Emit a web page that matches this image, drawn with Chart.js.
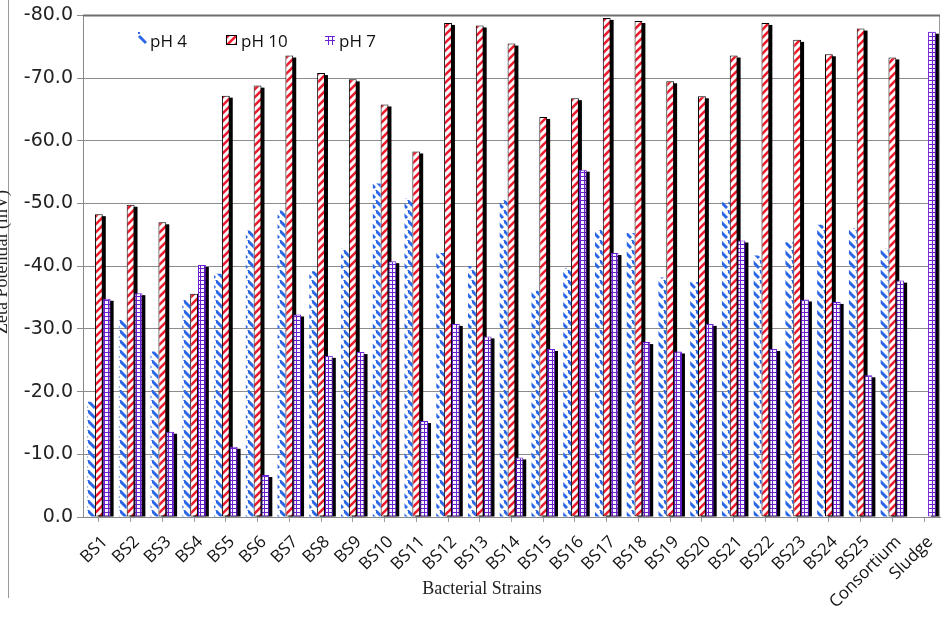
<!DOCTYPE html>
<html>
<head>
<meta charset="utf-8">
<script src="https://cdn.jsdelivr.net/npm/chart.js@4"></script>
<style>
  body { margin: 0; background: #fff; }
  #wrap { width: 951px; height: 617px; position: relative; }
</style>
</head>
<body>
<div id="wrap"><canvas id="grafico" width="951" height="617"></canvas></div>
<script>
// Datos del grafico (mV)
const strains = ["BS1", "BS2", "BS3", "BS4", "BS5", "BS6", "BS7", "BS8", "BS9", "BS10",
  "BS11", "BS12", "BS13", "BS14", "BS15", "BS16", "BS17", "BS18", "BS19", "BS20",
  "BS21", "BS22", "BS23", "BS24", "BS25", "Consortium", "Sludge"];
const ph4 = [-18.4, -31.6, -26.4, -34.6, -38.8, -45.7, -48.9, -39.2, -42.8, -53.2,
  -50.8, -42.1, -40.0, -50.5, -36.1, -39.7, -45.9, -45.3, -38.2, -37.5,
  -50.2, -41.7, -43.8, -46.6, -46.1, -42.8, null];
const ph10 = [-48.3, -49.8, -47.0, -35.6, -67.2, -68.8, -73.6, -70.8, -69.8, -65.8,
  -58.3, -78.8, -78.4, -75.5, -63.8, -66.8, -79.6, -79.1, -69.5, -67.1,
  -73.6, -78.8, -76.1, -73.8, -77.9, -73.3, null];
const ph7 = [-34.8, -35.7, -13.6, -40.2, -11.2, -6.7, -32.3, -25.7, -26.3, -40.8,
  -15.3, -30.8, -28.8, -9.5, -26.8, -55.4, -42.1, -27.9, -26.4, -30.8,
  -44.1, -26.8, -34.7, -34.3, -22.6, -37.7, -77.4];
const yTicks = [0, -10, -20, -30, -40, -50, -60, -70, -80];

document.addEventListener("DOMContentLoaded", function () {
  grafico();
});

// patrones de relleno tipo Excel
function patron(tipo) {
  const c = document.createElement("canvas");
  const g = c.getContext("2d");
  if (tipo === "ph4") {
    c.width = 8; c.height = 10;
    g.strokeStyle = "#2a66e6";
    g.lineWidth = 3;
    g.beginPath();
    g.moveTo(-1, 0); g.lineTo(7, 8);
    g.moveTo(7, -2); g.lineTo(9, 0);
    g.stroke();
  } else if (tipo === "ph10") {
    c.width = 8; c.height = 8;
    g.fillStyle = "#fff";
    g.fillRect(0, 0, 8, 8);
    g.strokeStyle = "#ee1c2e";
    g.lineWidth = 2.6;
    g.beginPath();
    g.moveTo(-2, 10); g.lineTo(10, -2);
    g.moveTo(-6, 6); g.lineTo(6, -6);
    g.moveTo(2, 14); g.lineTo(14, 2);
    g.stroke();
  } else {
    c.width = 4; c.height = 4;
    g.fillStyle = "#fbf7ff";
    g.fillRect(0, 0, 4, 4);
    g.fillStyle = "#6a1fd0";
    g.fillRect(0, 0, 4, 1);
    g.fillRect(0, 0, 1, 4);
  }
  return g.createPattern(c, "repeat");
}

function grafico() {
  const ctx = document.getElementById("grafico").getContext("2d");
  const p4 = patron("ph4"), p10 = patron("ph10"), p7 = patron("ph7");

  // sombra negra para pH 10 y pH 7 (antes de dibujar las barras)
  const sombra = {
    id: "sombra",
    beforeDatasetsDraw(chart) {
      const c = chart.ctx;
      const a = chart.chartArea;
      c.save();
      c.beginPath();
      c.rect(a.left, a.top - 4, a.right - a.left, a.bottom - a.top + 4);
      c.clip();
      c.fillStyle = "#000";
      [1, 2].forEach((i) => {
        chart.getDatasetMeta(i).data.forEach((el) => {
          const p = el.getProps(["x", "y", "base", "width"], true);
          if (p.y == null || isNaN(p.y)) return;
          c.fillRect(p.x - p.width / 2 + 3, p.y + 2, p.width, p.base - p.y - 2);
        });
      });
      c.restore();
    }
  };

  // marco, titulos de ejes y leyenda dentro del area
  const extras = {
    id: "extras",
    afterDraw(chart) {
      const c = chart.ctx;
      const a = chart.chartArea;
      c.save();
      c.strokeStyle = "#9a9a9a";
      c.lineWidth = 1;
      c.beginPath();
      c.moveTo(8.5, 0); c.lineTo(8.5, 598);
      c.moveTo(a.right - 0.5, a.top); c.lineTo(a.right - 0.5, a.bottom);
      c.stroke();
      c.strokeStyle = "#6e6e6e";
      c.lineWidth = 2;
      c.beginPath();
      c.moveTo(a.left, a.top); c.lineTo(a.right, a.top);
      c.stroke();

      c.fillStyle = "#222";
      c.font = "18px 'Liberation Serif'";
      c.textAlign = "center";
      c.textBaseline = "middle";
      c.fillText("Bacterial Strains", 482, 589);
      c.save();
      c.translate(2, 262);
      c.rotate(-Math.PI / 2);
      c.fillText("Zeta Potential (mV)", 0, 0);
      c.restore();

      // leyenda
      c.font = "17px 'Open Sans'";
      c.textAlign = "left";
      c.fillStyle = "#111";
      const ds = chart.data.datasets;
      c.fillText(ds[0].label, 150, 42);
      c.fillText(ds[1].label, 241, 42);
      c.fillText(ds[2].label, 339, 42);
      c.strokeStyle = "#2a66e6";
      c.lineWidth = 2.8;
      c.beginPath();
      c.moveTo(139, 36); c.lineTo(146, 43);
      c.stroke();
      c.fillStyle = "#2a66e6";
      c.fillRect(138, 32, 2, 2);
      c.fillStyle = p10;
      c.fillRect(226, 35, 11, 10);
      c.strokeStyle = "#000";
      c.lineWidth = 1;
      c.strokeRect(226.5, 35.5, 10, 9);
      c.strokeStyle = "#6a1fd0";
      c.beginPath();
      c.moveTo(325, 36.5); c.lineTo(335, 36.5);
      c.moveTo(325, 40.5); c.lineTo(335, 40.5);
      c.moveTo(328.5, 37); c.lineTo(328.5, 45);
      c.moveTo(332.5, 37); c.lineTo(332.5, 45);
      c.stroke();
      c.restore();
    }
  };

  new Chart(ctx, {
    type: "bar",
    data: {
      labels: strains,
      datasets: [
        {
          label: "pH 4",
          data: ph4,
          backgroundColor: p4,
          borderWidth: 0,
        },
        {
          label: "pH 10",
          data: ph10,
          backgroundColor: p10,
          borderColor: "#000",
          borderWidth: 1,
          borderSkipped: false,
        },
        {
          label: "pH 7",
          data: ph7,
          backgroundColor: p7,
          borderColor: "#6a1fd0",
          borderWidth: 1,
          borderSkipped: false,
        },
      ],
    },
    options: {
      responsive: false,
      animation: false,
      categoryPercentage: 0.74,
      barPercentage: 1.0,
      layout: { padding: { top: 8, right: 11, left: 0, bottom: 0 } },
      plugins: {
        legend: { display: false },
        tooltip: { enabled: false },
      },
      scales: {
        x: {
          afterFit: (s) => { s.height = 100; },
          grid: {
            display: true,
            drawOnChartArea: false,
            offset: false,
            tickLength: 5,
            color: "#9a9a9a",
          },
          border: { color: "#8a8a8a", width: 1 },
          ticks: {
            autoSkip: false,
            maxRotation: 45,
            minRotation: 45,
            padding: 10,
            labelOffset: 6,
            color: "#111",
            font: { family: "'Open Sans'", size: 17 },
          },
        },
        y: {
          reverse: true,
          min: -80,
          max: 0,
          afterFit: (s) => { s.width = 83; },
          afterBuildTicks: (s) => { s.ticks = yTicks.map((v) => ({ value: v })); },
          grid: {
            color: "#8c8c8c",
            tickLength: 6,
          },
          border: { color: "#8a8a8a", width: 1 },
          ticks: {
            padding: 4,
            color: "#222",
            font: { family: "'DejaVu Sans'", size: 19 },
            callback: (v) => Number(v).toFixed(1),
          },
        },
      },
    },
    plugins: [sombra, extras],
  });
}
</script>
</body>
</html>
